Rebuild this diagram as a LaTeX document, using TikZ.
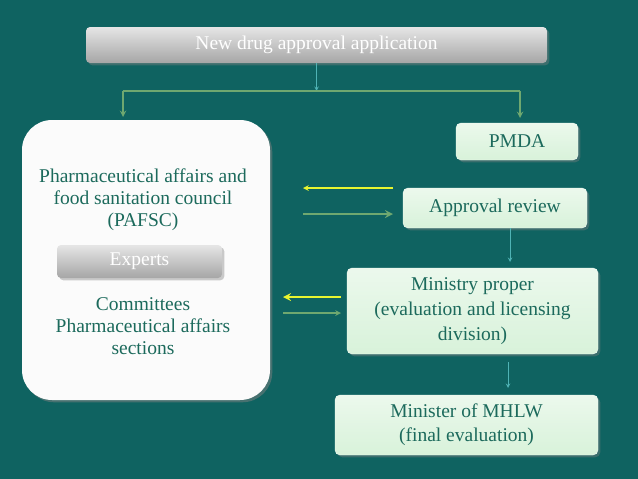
\documentclass[tikz,border=0pt]{standalone}
\usepackage{fontspec}
\setmainfont{Liberation Serif}
\usetikzlibrary{positioning, shadows}
\definecolor{BgTeal}{HTML}{0F6361}
\definecolor{TextTeal}{HTML}{1C6A5C}
\definecolor{BoxGreen}{HTML}{D8F2DA}
\definecolor{LineGreen}{HTML}{6FA870}
\definecolor{ArrTeal}{HTML}{4FB3B5}
\definecolor{ArrYellow}{HTML}{E8F530}

\begin{document}
\begin{tikzpicture}[x=1pt, y=-1pt,
			every node/.style={font=\fontsize{19.5}{22}\selectfont, align=center, text=TextTeal},
			greenbox/.style={draw=white!70!BoxGreen, rounded corners=5pt, top color=BoxGreen!50!white, bottom color=BoxGreen, drop shadow={opacity=.4}},
			graybox/.style={rounded corners=4pt, top color=gray!20, bottom color=gray!70, text=white, drop shadow={opacity=.4}},
			flow/.style={-stealth, ArrTeal, line width=1pt},
			branch/.style={-stealth, LineGreen, line width=1.8pt}
		]
			\fill[BgTeal] (0,0) rectangle (638,479);
			
			\node (app) [graybox, minimum width=461pt, minimum height=36pt] at (316.5,45) {New drug approval application};
			\coordinate (split) at (316.5,91);
			\coordinate (splitL) at (123,91);
			\coordinate (splitR) at (520,91);
			
			\node (council) [fill=white!97!gray, rounded corners=30pt, minimum width=248pt, minimum height=280pt, drop shadow={opacity=.5}] at (146,260) {};
			\node (pafsc) at (143,200) {Pharmaceutical affairs and\\food sanitation council\\(PAFSC)};
			\node (experts) [graybox, minimum width=165pt, minimum height=33pt] at (139.5,261.5) {Experts};
			\node (committees) at (143,326) {Committees\\Pharmaceutical affairs\\sections};
			
			\node (pmda) [greenbox, minimum width=122pt, minimum height=37pt] at (517,141.5) {PMDA};
			\node (review) [greenbox, minimum width=184pt, minimum height=40pt] at (495,208) {Approval review};
			\node (ministry) [greenbox, minimum width=251pt, minimum height=86pt, font=\fontsize{19.5}{25}\selectfont] at (472.5,311) {Ministry proper\\(evaluation and licensing\\division)};
			\node (minister) [greenbox, minimum width=263pt, minimum height=60pt, font=\fontsize{19.5}{24}\selectfont] at (466.5,425) {Minister of MHLW\\(final evaluation)};
			
			% feedback arrows between council and the review steps
			\coordinate (revOut) at (393,188);
			\coordinate (revIn) at (393,214);
			\coordinate (cncIn1) at (303,188);
			\coordinate (cncOut1) at (303,214);
			\coordinate (minOut) at (341,297);
			\coordinate (minIn) at (341,313);
			\coordinate (cncIn2) at (283,297);
			\coordinate (cncOut2) at (283,313);
			\coordinate (revDown) at (510,262);
			\coordinate (minDown) at (508,388);
			
			\draw[flow] (app) -- (split);
			\draw[branch, -] (splitL) -- (splitR);
			\draw[branch] (splitL) -- (123,117);
			\draw[branch] (splitR) -- (520,118);
			
			\draw[-stealth, ArrYellow, line width=1.5pt] (revOut) -- (cncIn1);
			\draw[-stealth, LineGreen, line width=2.5pt] (cncOut1) -- (revIn);
			\draw[-stealth, ArrYellow, line width=2.5pt] (minOut) -- (cncIn2);
			\draw[-stealth, LineGreen, line width=1.5pt] (cncOut2) -- (minIn);
			
			\draw[flow] (review.south -| revDown) -- (revDown);
			\draw[flow] ([yshift=-8pt]ministry.south -| minDown) -- (minDown);
		\end{tikzpicture}
\end{document}
